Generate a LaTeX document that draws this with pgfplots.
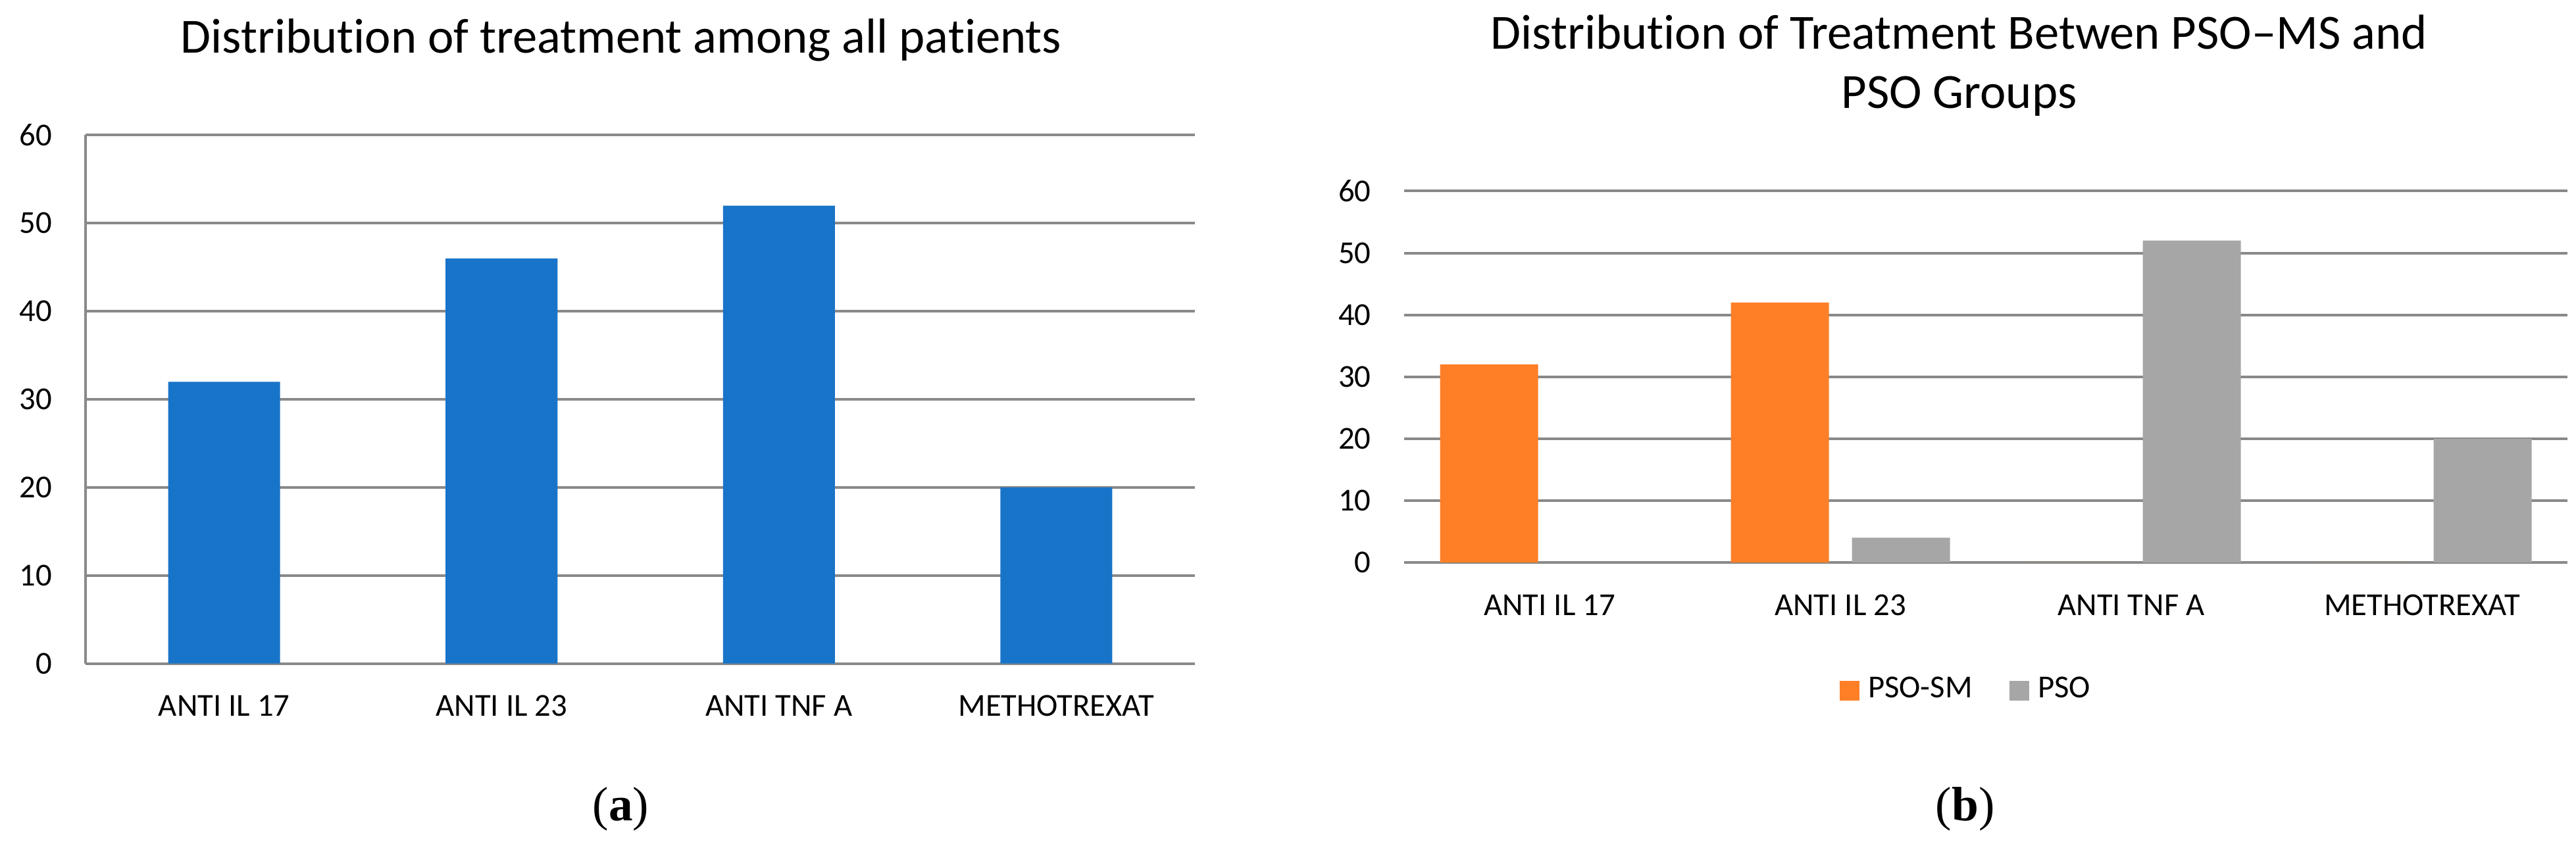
\documentclass[border=0pt]{standalone}
\usepackage{fontspec}
\setmainfont{Carlito}[Ligatures=NoCommon]
\newfontfamily\capfont{Liberation Serif}
\usepackage{pgfplots}
\pgfplotsset{compat=1.18}
\definecolor{barblue}{HTML}{1874C8}
\definecolor{barorange}{HTML}{FF7F27}
\definecolor{bargray}{HTML}{A6A6A6}
\definecolor{gridgray}{HTML}{898989}
\pgfplotsset{
  common/.style={
    scale only axis,
    xmin=-0.5, xmax=3.5, ymin=0, ymax=60,
    ytick={0,10,...,60},
    xtick={0,1,2,3},
    xticklabels={ANTI IL 17, ANTI IL 23, ANTI TNF A, METHOTREXAT},
    ymajorgrids,
    grid style={gridgray, line width=0.6pt},
    axis x line*=bottom, axis y line*=left,
    axis line style={gridgray, line width=0.6pt, -},
    major tick length=0pt,
    tick label style={font=\fontsize{7.3}{8.7}\selectfont},
    /pgf/number format/assume math mode=true,
    yticklabel style={anchor=east, inner sep=0pt, xshift=-7.4pt},
    xticklabel style={anchor=base, inner sep=0pt, yshift=-12pt},
    clip=false,
  }
}
\begin{document}
\begin{tikzpicture}
\path (0,0) rectangle (587.25pt,191.25pt);
\begin{axis}[common, anchor=south west, at={(19.5pt,41.0pt)},
  width=252.9pt, height=120.5pt]
\addplot[ybar, bar width=25.5pt, fill=barblue, draw=none] coordinates {(0,32) (1,46) (2,52) (3,20)};
\end{axis}
\begin{axis}[common, anchor=south west, at={(320.1pt,64.05pt)},
  width=265.2pt, height=84.7pt,
  y axis line style={draw=none},
  legend style={at={(0.486,-0.345)}, anchor=center, draw=none, fill=none,
    legend columns=2, font=\fontsize{7.3}{8.7}\selectfont, inner sep=0pt,
    /tikz/every even column/.append style={column sep=6.5pt}},
  legend image code/.code={\fill[#1] (0pt,-2.2pt) rectangle (4.4pt,2.2pt);}]
\addplot[ybar, bar width=22.35pt, bar shift=-13.8pt, fill=barorange, draw=none] coordinates {(0,32) (1,42) (2,0) (3,0)};
\addlegendentry{PSO-SM}
\addplot[ybar, bar width=22.35pt, bar shift=13.8pt, fill=bargray, draw=none] coordinates {(0,0) (1,4) (2,52) (3,20)};
\addlegendentry{PSO}
\end{axis}
\node[anchor=base, font=\fontsize{11.2}{13.4}\selectfont] at (141.6pt,180.2pt) {Distribution of treatment among all patients};
\node[anchor=base, font=\fontsize{11.2}{13.4}\selectfont] at (446.6pt,181.2pt) {Distribution of Treatment Betwen PSO\textendash MS and};
\node[anchor=base, font=\fontsize{11.2}{13.4}\selectfont] at (446.6pt,167.7pt) {PSO Groups};
\node[font=\capfont\fontsize{11}{13}\selectfont] at (141.5pt,7.8pt) {(\textbf{a})};
\node[font=\capfont\fontsize{11}{13}\selectfont] at (448pt,7.8pt) {(\textbf{b})};
\end{tikzpicture}
\end{document}
